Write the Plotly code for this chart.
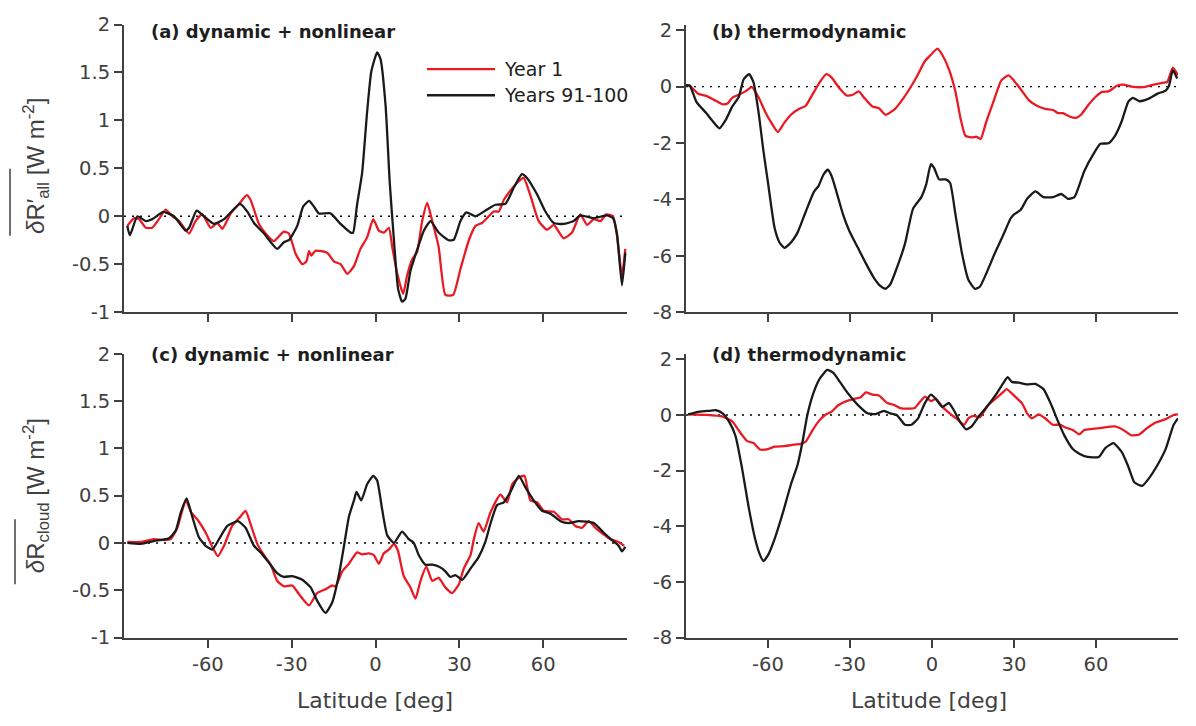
import plotly.graph_objects as go
from plotly.subplots import make_subplots

# ---------------- data: zonal-mean radiative anomalies vs latitude ----------------
# (a) dynamic + nonlinear, all-sky
lat_a_y1 = [-88.8, -86.4, -84.6, -82.2, -79.9, -77.5, -75.1, -72.7, -70.3, -66.7, -64.4, -62.0, -59.0,
            -56.6, -54.8, -51.8, -48.8, -46.1, -44.7, -41.7, -39.3, -36.4, -32.8, -31.0, -28.6, -26.2,
            -24.7, -23.8, -23.0, -21.5, -17.3, -14.9, -12.5, -10.1, -7.7, -5.4, -3.0, -0.8, 1.2, 3.0,
            4.8, 6.0, 7.7, 9.9, 11.3, 13.1, 14.9, 16.7, 18.5, 20.3, 22.6, 25.0, 27.8, 30.4, 33.4, 35.8,
            38.1, 39.9, 42.3, 44.1, 45.9, 48.3, 50.7, 53.0, 55.4, 58.4, 61.4, 63.8, 67.3, 70.3, 73.3,
            75.7, 78.1, 80.5, 82.6, 85.0, 86.4, 88.2, 89.4]
val_a_y1 = [-0.10, -0.02, -0.03, -0.12, -0.12, -0.03, 0.07, 0.00, -0.05, -0.18, -0.05, 0.02, -0.12,
            -0.07, -0.13, 0.03, 0.13, 0.22, 0.17, -0.08, -0.18, -0.26, -0.16, -0.18, -0.39, -0.50,
            -0.47, -0.36, -0.41, -0.36, -0.38, -0.47, -0.50, -0.60, -0.52, -0.34, -0.22, -0.03, -0.15,
            -0.17, -0.12, -0.32, -0.59, -0.81, -0.62, -0.45, -0.37, -0.05, 0.14, -0.05, -0.32, -0.82,
            -0.82, -0.55, -0.25, -0.10, -0.07, -0.02, 0.05, 0.05, 0.17, 0.27, 0.35, 0.40, 0.22, -0.05,
            -0.14, -0.09, -0.23, -0.17, 0.02, -0.09, -0.03, -0.05, 0.02, 0.00, -0.20, -0.62, -0.34]

lat_a_y91 = [-88.8, -87.9, -85.2, -82.2, -79.9, -75.9, -72.1, -67.9, -66.7, -64.0, -61.4, -57.8, -54.2,
             -48.5, -45.9, -43.5, -39.9, -35.2, -32.8, -31.0, -28.0, -25.9, -23.8, -22.0, -20.3, -16.1,
             -12.5, -8.9, -8.0, -6.6, -4.8, -3.0, -1.5, 0.6, 1.8, 3.6, 5.1, 6.6, 8.1, 9.5, 10.7, 12.5,
             14.9, 17.3, 19.7, 22.6, 26.2, 28.0, 30.4, 32.5, 35.8, 39.9, 42.9, 46.5, 49.5, 52.4, 54.2,
             57.8, 60.8, 63.8, 67.3, 70.9, 73.3, 78.1, 82.8, 85.0, 86.4, 88.2, 89.4]
val_a_y91 = [-0.10, -0.20, 0.00, -0.05, -0.03, 0.045, 0.00, -0.15, -0.12, 0.06, 0.00, -0.08, -0.03,
             0.13, 0.05, -0.07, -0.18, -0.34, -0.27, -0.25, -0.10, 0.10, 0.16, 0.10, 0.03, 0.03, -0.08,
             -0.17, -0.17, 0.12, 0.45, 1.09, 1.51, 1.71, 1.64, 1.16, 0.35, -0.25, -0.76, -0.89, -0.86,
             -0.57, -0.35, -0.15, -0.05, -0.17, -0.25, -0.245, -0.05, 0.04, 0.00, 0.07, 0.12, 0.13,
             0.30, 0.44, 0.40, 0.23, 0.05, -0.07, -0.08, -0.05, 0.01, -0.02, 0.01, -0.02, -0.18, -0.72,
             -0.38]

# (b) thermodynamic, all-sky
lat_b_y1 = [-90.0, -88.6, -85.6, -82.6, -79.6, -76.6, -74.8, -73.1, -70.7, -68.3, -65.9, -63.5, -61.1,
            -58.8, -56.4, -54.0, -51.6, -48.6, -46.2, -43.9, -41.5, -38.7, -36.7, -33.7, -31.3, -29.0,
            -26.8, -24.8, -21.8, -19.4, -17.0, -13.5, -10.5, -7.5, -5.1, -2.7, -1.0, 2.0, 3.8, 6.2,
            8.6, 10.4, 12.2, 14.5, 16.3, 17.8, 19.9, 22.9, 25.3, 28.0, 30.0, 32.8, 35.4, 38.4, 41.4,
            44.3, 46.1, 47.9, 50.3, 52.7, 54.5, 57.4, 59.8, 62.2, 64.6, 67.6, 70.0, 72.9, 77.1, 80.7,
            84.3, 86.1, 88.1, 90.0]
val_b_y1 = [0.05, 0.03, -0.25, -0.33, -0.48, -0.63, -0.60, -0.40, -0.29, -0.17, -0.02, -0.37, -0.88,
            -1.28, -1.61, -1.28, -1.00, -0.79, -0.68, -0.31, 0.09, 0.44, 0.32, -0.08, -0.31, -0.29,
            -0.17, -0.40, -0.71, -0.77, -1.00, -0.79, -0.42, 0.03, 0.44, 0.89, 1.07, 1.35, 1.12, 0.61,
            -0.19, -1.11, -1.74, -1.80, -1.78, -1.86, -1.23, -0.42, 0.21, 0.40, 0.21, -0.14, -0.48,
            -0.68, -0.79, -0.83, -0.94, -0.94, -1.06, -1.11, -1.00, -0.63, -0.37, -0.19, -0.17, 0.03,
            0.07, 0.00, -0.02, 0.06, 0.13, 0.17, 0.67, 0.40]

lat_b_y91 = [-90.0, -88.6, -86.2, -82.6, -80.2, -77.8, -75.4, -73.1, -70.7, -68.9, -66.9, -65.3, -63.5,
             -61.7, -60.0, -57.6, -55.8, -54.0, -51.6, -49.2, -46.2, -43.3, -41.5, -39.7, -38.1, -36.7,
             -34.9, -32.5, -30.2, -27.2, -24.2, -21.2, -18.8, -17.0, -15.3, -12.9, -9.9, -6.9, -3.9,
             -2.1, -0.4, 0.8, 2.6, 5.0, 6.6, 8.6, 11.0, 13.3, 15.7, 17.5, 19.9, 22.9, 25.9, 28.8, 30.0,
             32.4, 34.8, 37.8, 40.8, 44.3, 47.3, 49.7, 52.1, 55.7, 59.2, 61.6, 64.6, 67.0, 69.4, 71.8,
             73.5, 75.9, 79.5, 82.5, 85.5, 86.7, 88.1, 89.7]
val_b_y91 = [0.05, 0.03, -0.54, -0.94, -1.23, -1.48, -1.17, -0.71, -0.37, 0.26, 0.44, 0.15, -0.88,
             -2.26, -3.41, -5.01, -5.53, -5.72, -5.53, -5.18, -4.44, -3.75, -3.52, -3.12, -2.95, -3.18,
             -3.75, -4.55, -5.13, -5.70, -6.27, -6.79, -7.08, -7.17, -7.02, -6.44, -5.58, -4.32, -3.92,
             -3.46, -2.75, -2.89, -3.29, -3.29, -3.41, -4.55, -5.93, -6.85, -7.17, -7.10, -6.62, -5.93,
             -5.30, -4.67, -4.53, -4.38, -3.98, -3.72, -3.92, -3.92, -3.81, -3.98, -3.92, -3.00, -2.37,
             -2.03, -2.01, -1.74, -1.23, -0.54, -0.40, -0.52, -0.42, -0.25, -0.14, 0.03, 0.58, 0.29]

# (c) dynamic + nonlinear, cloud
lat_c_y1 = [-88.8, -84.0, -79.3, -75.7, -73.3, -70.9, -67.9, -65.9, -63.8, -60.8, -58.4, -56.4, -54.2,
            -51.3, -48.3, -46.5, -44.7, -42.3, -39.9, -37.5, -35.2, -32.8, -29.8, -27.4, -23.8, -20.9,
            -17.9, -15.5, -14.3, -11.9, -9.5, -6.6, -4.8, -2.4, -0.6, 1.2, 3.0, 4.8, 6.6, 8.0, 10.1,
            12.5, 14.3, 16.1, 18.2, 20.3, 22.6, 25.0, 27.4, 29.8, 31.6, 34.0, 35.2, 36.9, 38.7, 41.1,
            44.7, 47.1, 48.9, 51.3, 53.3, 55.4, 57.8, 60.2, 63.8, 66.7, 69.1, 71.5, 73.9, 76.3, 78.7,
            81.6, 84.0, 87.0, 89.0]
val_c_y1 = [0.01, 0.01, 0.04, 0.03, 0.04, 0.16, 0.45, 0.32, 0.25, 0.11, -0.04, -0.14, -0.03, 0.18,
            0.28, 0.34, 0.20, -0.01, -0.13, -0.23, -0.40, -0.46, -0.45, -0.54, -0.66, -0.53, -0.49,
            -0.45, -0.46, -0.30, -0.22, -0.10, -0.12, -0.11, -0.13, -0.22, -0.11, -0.07, -0.01, -0.08,
            -0.35, -0.47, -0.59, -0.40, -0.25, -0.40, -0.37, -0.47, -0.53, -0.44, -0.27, -0.13, 0.04,
            0.21, 0.12, 0.32, 0.51, 0.43, 0.62, 0.69, 0.71, 0.45, 0.43, 0.34, 0.33, 0.25, 0.25, 0.18,
            0.16, 0.23, 0.16, 0.09, 0.04, 0.01, -0.03]

lat_c_y91 = [-88.8, -84.0, -79.3, -73.9, -71.5, -69.7, -67.6, -65.6, -63.2, -60.8, -58.4, -56.0, -53.0,
             -49.2, -46.5, -43.5, -41.1, -38.1, -35.2, -32.8, -29.8, -26.2, -23.2, -20.9, -17.9, -15.5,
             -13.1, -11.1, -9.5, -7.7, -6.8, -5.1, -3.0, -0.8, 0.6, 2.4, 4.2, 6.6, 9.5, 11.9, 13.7,
             15.5, 17.9, 20.3, 22.6, 25.0, 26.8, 28.6, 31.0, 34.0, 36.9, 39.3, 41.1, 43.5, 45.9, 48.3,
             51.3, 53.6, 56.6, 59.6, 62.6, 66.2, 69.1, 72.7, 78.1, 81.6, 84.6, 87.0, 88.2, 89.4]
val_c_y91 = [0.00, -0.01, 0.02, 0.05, 0.13, 0.32, 0.47, 0.28, 0.06, -0.03, -0.07, 0.04, 0.18, 0.23,
             0.16, -0.03, -0.10, -0.21, -0.32, -0.36, -0.35, -0.39, -0.47, -0.61, -0.74, -0.63, -0.34,
             0.00, 0.28, 0.45, 0.54, 0.45, 0.62, 0.71, 0.66, 0.35, 0.08, 0.00, 0.12, 0.04, 0.00, -0.13,
             -0.23, -0.23, -0.25, -0.30, -0.36, -0.34, -0.39, -0.27, -0.15, 0.01, 0.20, 0.40, 0.43,
             0.54, 0.71, 0.59, 0.45, 0.34, 0.31, 0.23, 0.21, 0.23, 0.21, 0.11, 0.03, -0.03, -0.09,
             -0.04]

# (d) thermodynamic, cloud
lat_d_y1 = [-89.2, -82.6, -76.6, -73.1, -70.1, -67.7, -65.3, -62.9, -60.5, -57.6, -54.0, -51.6, -48.0,
            -46.2, -43.9, -41.5, -39.1, -36.7, -34.3, -31.3, -28.4, -26.0, -24.2, -21.8, -19.4, -16.4,
            -14.1, -11.7, -8.7, -6.3, -4.5, -2.5, -0.4, 1.4, 3.8, 6.8, 9.2, 11.8, 13.3, 15.1, 17.5,
            20.5, 23.5, 25.9, 27.3, 30.0, 33.0, 34.8, 36.6, 39.0, 41.4, 44.3, 46.7, 49.1, 51.5, 53.9,
            55.7, 58.6, 62.2, 67.0, 70.0, 72.9, 75.9, 78.3, 81.9, 85.5, 88.4, 90.0]
val_d_y1 = [0.02, 0.00, -0.06, -0.23, -0.64, -0.93, -1.01, -1.24, -1.24, -1.14, -1.12, -1.08, -1.04,
            -0.96, -0.58, -0.23, 0.00, 0.12, 0.35, 0.50, 0.58, 0.64, 0.81, 0.73, 0.70, 0.43, 0.37,
            0.25, 0.23, 0.25, 0.46, 0.66, 0.50, 0.58, 0.29, 0.03, -0.15, -0.35, -0.12, -0.03, -0.08,
            0.35, 0.61, 0.81, 0.93, 0.70, 0.41, 0.06, -0.12, 0.02, -0.12, -0.35, -0.35, -0.46, -0.54,
            -0.70, -0.54, -0.50, -0.46, -0.41, -0.54, -0.73, -0.70, -0.50, -0.27, -0.15, 0.00, 0.02]

lat_d_y91 = [-89.2, -85.0, -81.4, -79.0, -76.6, -74.3, -71.9, -69.5, -67.1, -64.7, -62.9, -61.7, -60.0,
             -57.6, -54.6, -51.6, -49.2, -47.4, -45.6, -43.3, -40.9, -38.3, -36.1, -33.7, -31.9, -29.6,
             -26.6, -23.6, -20.6, -17.6, -15.3, -12.9, -9.9, -7.5, -5.1, -2.7, -0.4, 1.4, 3.8, 6.2, 8.0,
             10.4, 12.5, 14.5, 17.5, 20.5, 23.5, 25.9, 27.7, 29.2, 31.8, 34.8, 37.8, 40.8, 43.7, 46.1,
             48.5, 51.5, 53.9, 56.9, 61.0, 63.4, 66.4, 69.4, 71.8, 74.1, 76.9, 79.5, 82.5, 85.5, 88.4,
             90.0]
val_d_y91 = [0.02, 0.12, 0.15, 0.17, 0.06, -0.23, -0.75, -1.91, -3.30, -4.46, -5.04, -5.25, -5.04,
             -4.46, -3.53, -2.49, -1.80, -0.98, 0.00, 0.81, 1.33, 1.62, 1.51, 1.19, 0.93, 0.64, 0.31,
             0.06, 0.03, 0.15, 0.06, 0.00, -0.35, -0.35, -0.12, 0.41, 0.73, 0.58, 0.29, 0.43, 0.17,
             -0.27, -0.52, -0.41, 0.00, 0.35, 0.75, 1.12, 1.36, 1.19, 1.16, 1.10, 1.12, 0.93, 0.35,
             -0.23, -0.75, -1.22, -1.39, -1.51, -1.51, -1.19, -1.01, -1.33, -1.85, -2.43, -2.55, -2.26,
             -1.80, -1.22, -0.35, -0.12]

series_labels = ["Year 1", "Years 91-100"]
panel_titles = ["(a) dynamic + nonlinear", "(b) thermodynamic",
                "(c) dynamic + nonlinear", "(d) thermodynamic"]
lat_ticks = [-60, -30, 0, 30, 60]
left_yticks = [-1, -0.5, 0, 0.5, 1, 1.5, 2]
left_yticktext = ["-1", "-0.5", "0", "0.5", "1", "1.5", "2"]
right_yticks = [-8, -6, -4, -2, 0, 2]
right_yticktext = ["-8", "-6", "-4", "-2", "0", "2"]

# ---------------- styling ----------------
W, H = 1196, 726
RED = "rgb(234,26,36)"
BLACK = "rgb(26,26,26)"
AXIS = "rgb(64,64,64)"
TXT = "rgb(64,64,64)"
DARK = "rgb(30,30,30)"
FONT = "DejaVu Sans, Liberation Sans, Arial, sans-serif"
LABEL_FONT = "Liberation Sans, Arial, Helvetica, sans-serif"

def px_x(v):
    return v / W

def px_y(v):
    return 1 - v / H

fig = make_subplots(rows=2, cols=2)

panels = [
    (1, 1, lat_a_y1, val_a_y1, lat_a_y91, val_a_y91),
    (1, 2, lat_b_y1, val_b_y1, lat_b_y91, val_b_y91),
    (2, 1, lat_c_y1, val_c_y1, lat_c_y91, val_c_y91),
    (2, 2, lat_d_y1, val_d_y1, lat_d_y91, val_d_y91),
]

for r, c, lx1, vy1, lx2, vy2 in panels:
    # dotted zero reference
    fig.add_trace(go.Scatter(x=[-90, 90], y=[0, 0], mode="lines",
                             line=dict(color="black", width=1.4, dash="2px,6px"),
                             showlegend=False, hoverinfo="skip"), row=r, col=c)
    fig.add_trace(go.Scatter(x=lx1, y=vy1, mode="lines", name=series_labels[0],
                             line=dict(color=RED, width=2.3, shape="spline", smoothing=0.5),
                             showlegend=False), row=r, col=c)
    fig.add_trace(go.Scatter(x=lx2, y=vy2, mode="lines", name=series_labels[1],
                             line=dict(color=BLACK, width=2.3, shape="spline", smoothing=0.5),
                             showlegend=False), row=r, col=c)

x_left = [px_x(124), px_x(627)]
x_right = [px_x(686), px_x(1178)]
y_top = [px_y(311), px_y(14)]
y_bot = [px_y(647), px_y(354)]

common_axis = dict(showline=True, linecolor=AXIS, linewidth=2, ticks="outside", ticklen=8,
                   tickwidth=2, tickcolor=AXIS, showgrid=False, zeroline=False, mirror=False,
                   tickfont=dict(family=FONT, size=19.5, color=TXT))

for r, c in [(1, 1), (1, 2), (2, 1), (2, 2)]:
    fig.update_xaxes(common_axis, range=[-90, 90], tickvals=lat_ticks,
                     ticktext=[str(t) for t in lat_ticks],
                     showticklabels=(r == 2),
                     domain=x_left if c == 1 else x_right, row=r, col=c)
    if c == 1:
        fig.update_yaxes(common_axis, range=[-1, 2], tickvals=left_yticks,
                         ticktext=left_yticktext,
                         domain=y_top if r == 1 else y_bot, row=r, col=c)
    else:
        fig.update_yaxes(common_axis, range=[-8, 2.2], tickvals=right_yticks,
                         ticktext=right_yticktext,
                         domain=y_top if r == 1 else y_bot, row=r, col=c)

annotations = []
shapes = []

# panel titles
title_pos = [(149, 21.5), (710, 21.5), (149, 355), (710, 355)]
for t, (x, y) in zip(panel_titles, title_pos):
    annotations.append(dict(text="<b>%s</b>" % t, xref="paper", yref="paper",
                            x=px_x(x), y=px_y(y), xanchor="left", yanchor="middle",
                            showarrow=False, font=dict(family=FONT, size=18, color=DARK)))

# x-axis titles
for xc in (375, 929):
    annotations.append(dict(text="Latitude [deg]", xref="paper", yref="paper",
                            x=px_x(xc), y=px_y(712), xanchor="center", yanchor="middle",
                            showarrow=False, font=dict(family=FONT, size=22, color=TXT)))

# y-axis titles (overbar drawn as a short rule beside the rotated symbol)
annotations.append(dict(text="<i>δ</i>R′<sub>all</sub> [W m<sup>-2</sup>]", xref="paper", yref="paper",
                        x=px_x(36), y=px_y(160), xanchor="center", yanchor="middle",
                        textangle=-90, showarrow=False, font=dict(family=LABEL_FONT, size=24, color=TXT)))
annotations.append(dict(text="<i>δ</i>R<sub>cloud</sub> [W m<sup>-2</sup>]", xref="paper", yref="paper",
                        x=px_x(36), y=px_y(501), xanchor="center", yanchor="middle",
                        textangle=-90, showarrow=False, font=dict(family=LABEL_FONT, size=24, color=TXT)))
shapes.append(dict(type="line", xref="paper", yref="paper", x0=px_x(10), x1=px_x(10),
                   y0=px_y(163), y1=px_y(232), line=dict(color=TXT, width=1.5)))
shapes.append(dict(type="line", xref="paper", yref="paper", x0=px_x(15), x1=px_x(15),
                   y0=px_y(525), y1=px_y(592), line=dict(color=TXT, width=1.5)))

# legend in panel (a)
for i, (lab, col) in enumerate(zip(series_labels, [RED, BLACK])):
    yy = 60 + 27 * i
    shapes.append(dict(type="line", xref="paper", yref="paper", x0=px_x(427), x1=px_x(495),
                       y0=px_y(yy), y1=px_y(yy), line=dict(color=col, width=2.3)))
    annotations.append(dict(text=lab, xref="paper", yref="paper", x=px_x(502), y=px_y(yy),
                            xanchor="left", yanchor="middle", showarrow=False,
                            font=dict(family=FONT, size=19, color=DARK)))

fig.update_layout(width=W, height=H, margin=dict(l=0, r=0, t=0, b=0),
                  paper_bgcolor="white", plot_bgcolor="white",
                  annotations=annotations, shapes=shapes, showlegend=False,
                  font=dict(family=FONT, color=TXT))

fig.write_html("out.html", config={"displayModeBar": False})
